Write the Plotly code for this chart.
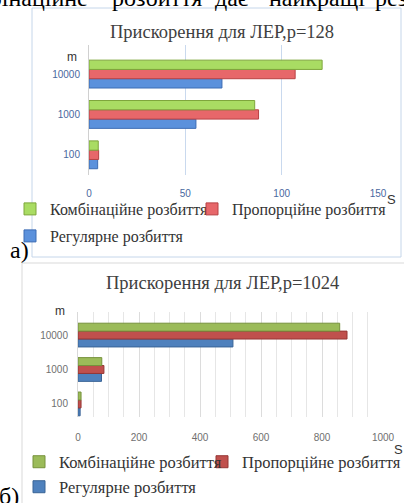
import plotly.graph_objects as go

W, H = 404, 503

m_labels = ["100", "1000", "10000"]
names = ["Регулярне розбиття", "Пропорційне розбиття", "Комбінаційне розбиття"]

# chart а) p=128
a_regular = [4.5, 55.5, 69]
a_proportional = [5, 88, 107]
a_combined = [4.8, 86, 121]
a_xticks = [0, 50, 100, 150]

# chart б) p=1024
b_regular = [7, 77, 508]
b_proportional = [10, 85, 882]
b_combined = [10, 78, 858]
b_xticks = [0, 200, 400, 600, 800, 1000]

# cut-off sentence above the charts (words)
top_words = ["Комбінаційне", "розбиття", "дає", "найкращі", "результати"]

a_colors = ["#5b91dc", "#e7676a", "#a9dc63"]
a_lines = ["#3c6cb4", "#b84345", "#7ea63c"]
b_colors = ["#4f81bd", "#c0504d", "#9bbb59"]
b_lines = ["#3a6496", "#953735", "#76923c"]


def px(x):
    return x / W


def py(y):
    return 1 - y / H


SERIF = "Liberation Serif"
SANS = "Liberation Sans"

fig = go.Figure()

a_series = [a_regular, a_proportional, a_combined]
b_series = [b_regular, b_proportional, b_combined]
a_legends = ["legend3", "legend2", "legend"]
b_legends = ["legend6", "legend5", "legend4"]

for i, vals in enumerate(a_series):
    fig.add_trace(go.Bar(
        y=m_labels, x=vals, orientation="h", name=names[i],
        marker=dict(color=a_colors[i], line=dict(color=a_lines[i], width=1)),
        xaxis="x", yaxis="y", legend=a_legends[i],
    ))

for i, vals in enumerate(b_series):
    fig.add_trace(go.Bar(
        y=m_labels, x=vals, orientation="h", name=names[i],
        marker=dict(color=b_colors[i], line=dict(color=b_lines[i], width=1)),
        xaxis="x2", yaxis="y2", legend=b_legends[i],
    ))

a_tick_font = dict(family=SANS, size=10, color="#4a68a0")
b_tick_font = dict(family=SANS, size=10, color="#6f6f6f")


def leg(x, y, size):
    return dict(orientation="h", x=px(x), y=py(y), xanchor="left", yanchor="middle",
                font=dict(family=SERIF, size=size, color="#333333"),
                bgcolor="rgba(0,0,0,0)")


fig.update_layout(
    width=W, height=H,
    margin=dict(l=0, r=0, t=0, b=0, autoexpand=False),
    paper_bgcolor="white", plot_bgcolor="white",
    barmode="group", bargap=0.31, bargroupgap=0,
    xaxis=dict(domain=[px(89), px(378)], range=[0, 150], tickvals=a_xticks,
               showgrid=True, gridcolor="#c9d9ee", gridwidth=1, zeroline=False,
               ticks="outside", ticklen=9, tickcolor="rgba(0,0,0,0)",
               tickfont=a_tick_font, anchor="y", fixedrange=True, automargin=False),
    yaxis=dict(domain=[py(175), py(45)], type="category", range=[-0.5, 2.72],
               showgrid=False, showline=True, linecolor="#d0d0d0",
               ticks="outside", ticklen=6, tickcolor="rgba(0,0,0,0)",
               tickfont=a_tick_font, anchor="x", fixedrange=True, automargin=False),
    xaxis2=dict(domain=[px(78), px(383)], range=[0, 1000], tickvals=b_xticks,
                showgrid=True, gridcolor="#dcdcdc", zeroline=False,
                minor=dict(dtick=50, showgrid=True, gridcolor="#e6e6e6"),
                ticks="outside", ticklen=11, tickcolor="rgba(0,0,0,0)",
                tickfont=b_tick_font, anchor="y2", fixedrange=True, automargin=False),
    yaxis2=dict(domain=[py(417), py(312)], type="category", range=[-0.38, 2.67],
                showgrid=False, showline=True, linecolor="#d9d9d9",
                ticks="outside", ticklen=7, tickcolor="rgba(0,0,0,0)",
                tickfont=b_tick_font, anchor="x2", fixedrange=True, automargin=False),
    legend=leg(10, 209, 16),
    legend2=leg(192, 209, 16),
    legend3=leg(10, 236, 16),
    legend4=leg(19, 462, 16.5),
    legend5=leg(202, 462, 16.5),
    legend6=leg(19, 487, 16.5),
    showlegend=True,
)

# frames
fig.add_shape(type="rect", xref="paper", yref="paper",
              x0=px(32), x1=px(401), y0=py(257), y1=py(8),
              line=dict(color="#c5d6ea", width=1), layer="below")
fig.add_shape(type="rect", xref="paper", yref="paper",
              x0=px(22), x1=px(410), y0=py(510), y1=py(263),
              line=dict(color="#d9d9d9", width=1), layer="below")

ann = []
# titles
ann.append(dict(text="Прискорення для ЛЕР,p=128", x=px(222), y=py(32),
                font=dict(family=SERIF, size=18.5, color="#404040")))
ann.append(dict(text="Прискорення для ЛЕР,p=1024", x=px(222), y=py(283),
                font=dict(family=SERIF, size=18.5, color="#404040")))
# axis names
ann.append(dict(text="m", x=px(72), y=py(57), font=dict(family=SANS, size=12, color="#333333")))
ann.append(dict(text="S", x=px(391), y=py(200), font=dict(family=SANS, size=13, color="#333333")))
ann.append(dict(text="m", x=px(60), y=py(311), font=dict(family=SANS, size=12, color="#333333")))
ann.append(dict(text="S", x=px(398), y=py(449), font=dict(family=SANS, size=13, color="#333333")))
# panel labels
ann.append(dict(text="а)", x=px(19), y=py(250), font=dict(family=SERIF, size=24, color="#000000")))
ann.append(dict(text="б)", x=px(9), y=py(496), font=dict(family=SERIF, size=24, color="#000000")))
# cut-off justified sentence above
word_x = [(90, "right"), (110, "left"), (213, "left"), (267, "left"), (373, "left")]
for w, (wx, anc) in zip(top_words, word_x):
    ann.append(dict(text=w, x=px(wx), y=py(-2), xanchor=anc,
                    font=dict(family=SERIF, size=24, color="#000000")))

for a in ann:
    a.setdefault("xanchor", "center")
    a.setdefault("yanchor", "middle")
    a.update(xref="paper", yref="paper", showarrow=False)
    fig.add_annotation(**a)

fig.write_html("out.html", config={"displayModeBar": False},
               post_script="document.body.style.margin='0';")
